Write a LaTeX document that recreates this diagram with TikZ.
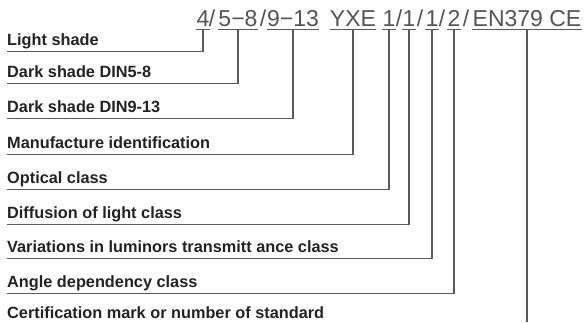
\documentclass[tikz,border=0pt]{standalone}
\usepackage{fontspec}
\setmainfont{Liberation Sans}
\usetikzlibrary{positioning}
\definecolor{leadgray}{RGB}{90,90,90}
\definecolor{codegray}{RGB}{85,85,85}
\definecolor{labelblack}{RGB}{35,35,35}

\begin{document}
\begin{tikzpicture}[
      x=1pt, y=-1pt,
      codeseg/.style={anchor=base, inner xsep=0pt, inner ysep=3pt, text depth=0pt,
                      font=\fontsize{23}{23}\selectfont, text=codegray},
      lbl/.style={anchor=base west, inner xsep=0pt, inner ysep=6pt, text depth=0pt,
                  font=\fontsize{16.3}{16.3}\selectfont\bfseries, text=labelblack},
      uline/.style={draw=leadgray, line width=1.1pt},
      lead/.style={draw=leadgray, line width=1.3pt},
  ]
    \fill[white] (0,0) rectangle (584,322);
    \useasboundingbox (0,0) rectangle (584,322);

    % marking on the lens
    \node[codeseg] (code4)   at (203,26) {4};
    \node[codeseg] (sl1)     at (212,26) {/};
    \node[codeseg] (code58)  at (238,26) {5−8};
    \node[codeseg] (sl2)     at (263,26) {/};
    \node[codeseg] (code913) at (293,26) {9−13};
    \node[codeseg] (codeYXE) at (353,26) {YXE};
    \node[codeseg] (codeA)   at (389,26) {1};
    \node[codeseg] (sl3)     at (399,26) {/};
    \node[codeseg] (codeB)   at (409,26) {1};
    \node[codeseg] (sl4)     at (420,26) {/};
    \node[codeseg] (codeC)   at (432,26) {1};
    \node[codeseg] (sl5)     at (442,26) {/};
    \node[codeseg] (codeD)   at (454,26) {2};
    \node[codeseg] (sl6)     at (466,26) {/};
    \node[codeseg] (codeEN)  at (527,26) {EN379 CE};

    % meanings
    \node[lbl] (light)     at (7,45)  {Light shade};
    \node[lbl] (dark58)    at (7,77)  {Dark shade DIN5-8};
    \node[lbl] (dark913)   at (7,112) {Dark shade DIN9-13};
    \node[lbl] (manuf)     at (7,148) {Manufacture identification};
    \node[lbl] (optical)   at (7,183) {Optical class};
    \node[lbl] (diffusion) at (7,218) {Diffusion of light class};
    \node[lbl] (variation) at (7,252) {Variations in luminors transmitt ance class};
    \node[lbl] (angle)     at (7,287) {Angle dependency class};
    \node[lbl] (certif)    at (7,318) {Certification mark or number of standard};
    \coordinate (certend) at (527,322);

    % underlines
    \draw[uline] (code4.south west)   -- (code4.south east);
    \draw[uline] (code58.south west)  -- (code58.south east);
    \draw[uline] (code913.south west) -- (code913.south east);
    \draw[uline] (codeYXE.south west) -- (codeYXE.south east);
    \draw[uline] (codeA.south west)   -- (codeA.south east);
    \draw[uline] (codeB.south west)   -- (codeB.south east);
    \draw[uline] (codeC.south west)   -- (codeC.south east);
    \draw[uline] (codeD.south west)   -- (codeD.south east);
    \draw[uline] (codeEN.south west)  -- (codeEN.south east);

    % leaders
    \draw[lead] (code4.south)   |- (light.south west);
    \draw[lead] (code58.south)  |- (dark58.south west);
    \draw[lead] (code913.south) |- (dark913.south west);
    \draw[lead] (codeYXE.south) |- (manuf.south west);
    \draw[lead] (codeA.south)   |- (optical.south west);
    \draw[lead] (codeB.south)   |- (diffusion.south west);
    \draw[lead] (codeC.south)   |- (variation.south west);
    \draw[lead] (codeD.south)   |- (angle.south west);
    \draw[lead] (codeEN.south)  -- (certend);

  \end{tikzpicture}
\end{document}
